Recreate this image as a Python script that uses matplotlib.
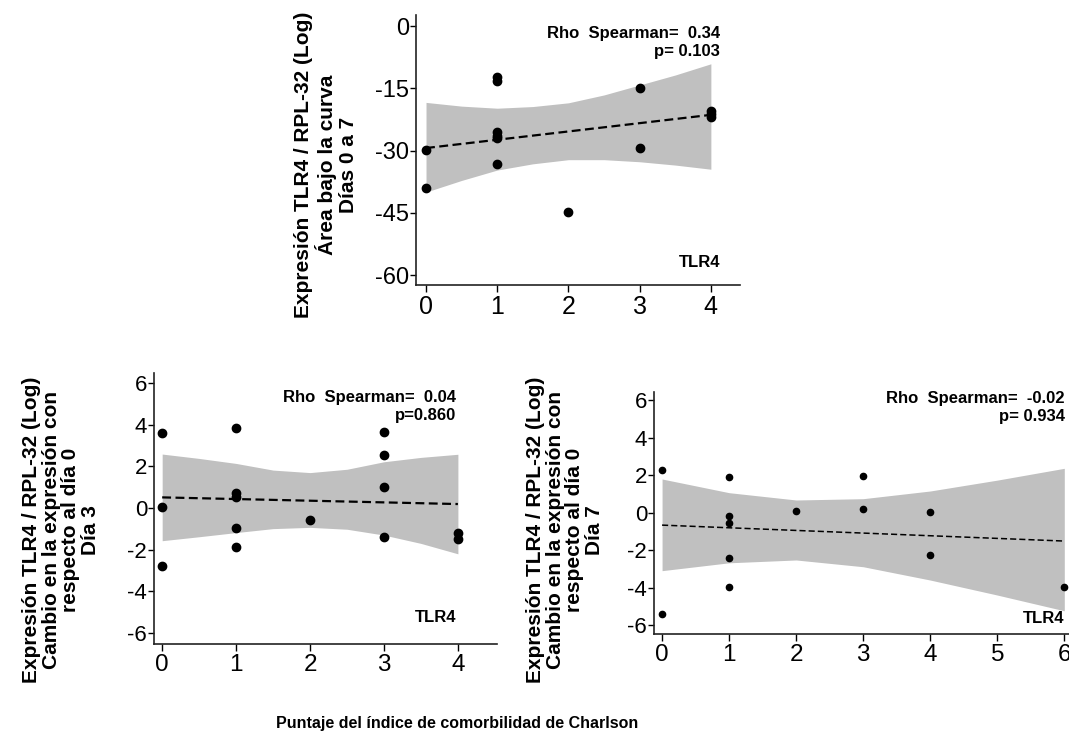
"""
Correlacion TLR4 vs indice de Charlson: tres paneles
"""

import matplotlib
matplotlib.use("Agg")
import matplotlib.pyplot as plt

plt.rcParams['font.family'] = ['Liberation Sans', 'DejaVu Sans']
plt.rcParams['axes.unicode_minus'] = False

# Panel superior: area bajo la curva dias 0 a 7
x_auc = [0, 0, 1, 1, 1, 1, 1, 1, 2, 3, 3, 4, 4, 4]
y_auc = [-29.8, -39.1, -12.4, -13.3, -25.5, -26.5, -27.0, -33.3, -44.7,
         -15.0, -29.4, -20.4, -21.2, -21.9]
fit_x_auc = [0, 4]
fit_y_auc = [-29.4, -21.4]
band_x_auc = [0, 0.5, 1, 1.5, 2, 2.5, 3, 3.5, 4]
band_lo_auc = [-40.0, -37.2, -34.7, -33.2, -32.2, -32.2, -32.7, -33.5, -34.5]
band_hi_auc = [-18.4, -19.3, -19.8, -19.4, -18.5, -16.6, -14.2, -11.8, -9.1]

# Panel inferior izquierdo: dia 3
x_d3 = [0, 0, 0, 1, 1, 1, 1, 1, 2, 3, 3, 3, 3, 4, 4]
y_d3 = [3.58, 0.03, -2.8, 3.83, 0.73, 0.51, -0.94, -1.88, -0.58,
        3.66, 2.54, 1.02, -1.38, -1.2, -1.5]
fit_x_d3 = [0, 4]
fit_y_d3 = [0.51, 0.19]
band_x_d3 = [0, 0.5, 1, 1.5, 2, 2.5, 3, 3.5, 4]
band_lo_d3 = [-1.57, -1.38, -1.18, -0.99, -0.93, -1.02, -1.30, -1.70, -2.2]
band_hi_d3 = [2.59, 2.38, 2.14, 1.82, 1.70, 1.86, 2.22, 2.43, 2.58]

# Panel inferior derecho: dia 7
x_d7 = [0, 0, 1, 1, 1, 1, 1, 2, 3, 3, 4, 4, 6]
y_d7 = [2.27, -5.43, 1.88, -0.19, -0.58, -2.41, -3.96, 0.08,
        1.95, 0.17, 0.04, -2.27, -3.99]
fit_x_d7 = [0, 6]
fit_y_d7 = [-0.67, -1.52]
band_x_d7 = [0, 1, 2, 3, 4, 5, 6]
band_lo_d7 = [-3.10, -2.68, -2.53, -2.89, -3.60, -4.40, -5.24]
band_hi_d7 = [1.79, 1.06, 0.67, 0.74, 1.15, 1.73, 2.36]

rho_labels = ["Rho  Spearman=  0.34\np= 0.103",
              "Rho  Spearman=  0.04\np=0.860",
              "Rho  Spearman=  -0.02\np= 0.934"]
ylabels = ["Expresión TLR4 / RPL-32 (Log)\nÁrea bajo la curva\nDías 0 a 7",
           "Expresión TLR4 / RPL-32 (Log)\nCambio en la expresión con\nrespecto al día 0\nDía 3",
           "Expresión TLR4 / RPL-32 (Log)\nCambio en la expresión con\nrespecto al día 0\nDía 7"]
xlabel = "Puntaje del índice de comorbilidad de Charlson"

BAND = '#c0c0c0'


def panel(ax, x, y, fx, fy, bx, blo, bhi, ms, lw, xt, yt, xs, ys):
    ax.fill_between(bx, blo, bhi, color=BAND, lw=0, zorder=1)
    ax.plot(fx, fy, ls=(0, (4, 2)), color='black', lw=lw, zorder=2)
    ax.plot(x, y, 'o', color='black', ms=ms, mec='black', zorder=3)
    ax.set_xticks(xt)
    ax.set_yticks(yt)
    for s in ['top', 'right']:
        ax.spines[s].set_visible(False)
    for s in ['left', 'bottom']:
        ax.spines[s].set_linewidth(1.2)
        ax.spines[s].set_color('#222222')
    ax.tick_params(axis='x', length=5, width=1, labelsize=xs, pad=2)
    ax.tick_params(axis='y', length=4, width=1, labelsize=ys, pad=1)
    ax.set_facecolor('none')


def main():
    fig = plt.figure(figsize=(10.69, 7.44), dpi=100)

    ax1 = fig.add_axes([0.3892, 0.6169, 0.3031, 0.3629])
    panel(ax1, x_auc, y_auc, fit_x_auc, fit_y_auc, band_x_auc, band_lo_auc,
          band_hi_auc, 6, 1.6, [0, 1, 2, 3, 4], [0, -15, -30, -45, -60], 18, 17)
    ax1.set_xlim(-0.14, 4.41)
    ax1.set_ylim(-62.4, 2.65)
    ax1.text(0.938, 0.90, rho_labels[0], transform=ax1.transAxes, ha='right',
             va='center', fontsize=12, fontweight='bold', linespacing=1.25)
    ax1.text(0.938, 0.085, "TLR4", transform=ax1.transAxes, ha='right',
             va='center', fontsize=12, fontweight='bold')

    ax2 = fig.add_axes([0.1441, 0.1344, 0.3209, 0.3642])
    panel(ax2, x_d3, y_d3, fit_x_d3, fit_y_d3, band_x_d3, band_lo_d3,
          band_hi_d3, 6, 1.6, [0, 1, 2, 3, 4], [6, 4, 2, 0, -2, -4, -6], 17.5, 16)
    ax2.set_xlim(-0.11, 4.53)
    ax2.set_ylim(-6.53, 6.48)
    ax2.text(0.880, 0.877, rho_labels[1], transform=ax2.transAxes, ha='right',
             va='center', fontsize=12, fontweight='bold', linespacing=1.25)
    ax2.text(0.880, 0.096, "TLR4", transform=ax2.transAxes, ha='right',
             va='center', fontsize=12, fontweight='bold')

    ax3 = fig.add_axes([0.6118, 0.1478, 0.3882, 0.3253])
    panel(ax3, x_d7, y_d7, fit_x_d7, fit_y_d7, band_x_d7, band_lo_d7,
          band_hi_d7, 4.5, 1.1, [0, 1, 2, 3, 4, 5, 6], [6, 4, 2, 0, -2, -4, -6], 17.5, 16)
    ax3.set_xlim(-0.12, 6.07)
    ax3.set_ylim(-6.48, 6.43)
    ax3.text(0.990, 0.938, rho_labels[2], transform=ax3.transAxes, ha='right',
             va='center', fontsize=12, fontweight='bold', linespacing=1.25)
    ax3.text(0.990, 0.066, "TLR4", transform=ax3.transAxes, ha='right',
             va='center', fontsize=12, fontweight='bold')

    fig.text(0.305, 0.778, ylabels[0], rotation=90, ha='center', va='center',
             multialignment='center', fontsize=15, fontweight='bold', linespacing=1.1)
    fig.text(0.057, 0.288, ylabels[1], rotation=90, ha='center', va='center',
             multialignment='center', fontsize=15, fontweight='bold', linespacing=1.05)
    fig.text(0.5285, 0.288, ylabels[2], rotation=90, ha='center', va='center',
             multialignment='center', fontsize=15, fontweight='bold', linespacing=1.05)
    fig.text(0.4275, 0.027, xlabel, ha='center', va='center', fontsize=11.5,
             fontweight='bold')

    fig.savefig("out.png", dpi=100)


if __name__ == "__main__":
    main()
